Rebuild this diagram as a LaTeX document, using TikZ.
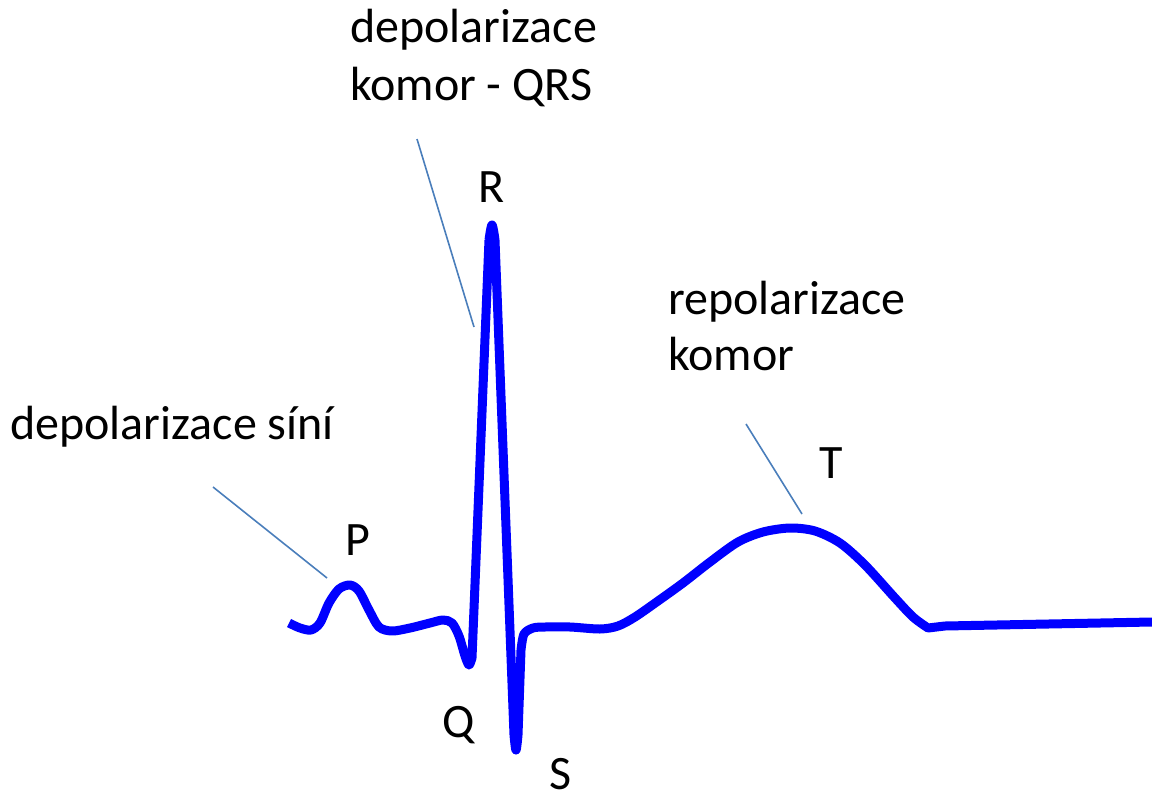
\documentclass[tikz,border=0pt]{standalone}
\usepackage{fontspec}
\setmainfont{Carlito}
\begin{document}
\begin{tikzpicture}[x=1pt,y=-1pt,
  lbl/.style={inner sep=0pt,anchor=base west,font=\fontsize{48}{58}\selectfont},
  wave/.style={draw=blue,line width=9pt,line join=round,line cap=butt},
  leader/.style={draw=leadcol,line width=1.6pt}]
\definecolor{leadcol}{RGB}{74,126,187}
\useasboundingbox (0,0) rectangle (1152,798);
% labels
\node[lbl] (atr) at (10,439) {depolarizace síní};
\node[lbl] (qrs1) at (350,42) {depolarizace};
\node[lbl] (qrs2) at (350,100) {komor - QRS};
\node[lbl] (rep1) at (668,314) {repolarizace};
\node[lbl] (rep2) at (668,370) {komor};
\node[lbl] (P) at (345,555) {P};
\node[lbl] (Q) at (442,737) {Q};
\node[lbl] (R) at (478,202) {R};
\node[lbl] (S) at (549,789) {S};
\node[lbl] (T) at (819,478) {T};
% leader lines
\coordinate (a1) at (213,487); \coordinate (a2) at (327,578);
\coordinate (b1) at (417,139); \coordinate (b2) at (474,327);
\coordinate (c1) at (746,424); \coordinate (c2) at (802,514);
\draw[leader] (a1) -- (a2);
\draw[leader] (b1) -- (b2);
\draw[leader] (c1) -- (c2);
% ECG waveform
\draw[wave] plot[smooth,tension=0.5] coordinates {
 (289,623) (300,628) (311,630) (320,623) (329,603) (339,589) (350,585)
 (359,591) (369,610) (379,627) (392,631) (410,628) (430,623) (443,620)
 (452,623) (459,636) (465,656) (469,665) (472,658)}
 -- (489,240)
 plot[smooth,tension=0.6] coordinates {(489,240) (492,225) (495,240)}
 -- (514,735)
 plot[smooth,tension=0.6] coordinates {(514,735) (516,750) (518,735)}
 -- (521,650)
 plot[smooth,tension=0.5] coordinates {(521,650) (524,634) (533,628) (545,627)
 (570,627) (600,629) (618,626) (635,617) (658,601) (683,583) (710,562)
 (738,542) (763,532) (790,528) (815,531) (840,543) (865,565) (895,598)
 (913,617) (928,628)}
 -- (945,626) -- (1152,622);
\end{tikzpicture}
\end{document}
